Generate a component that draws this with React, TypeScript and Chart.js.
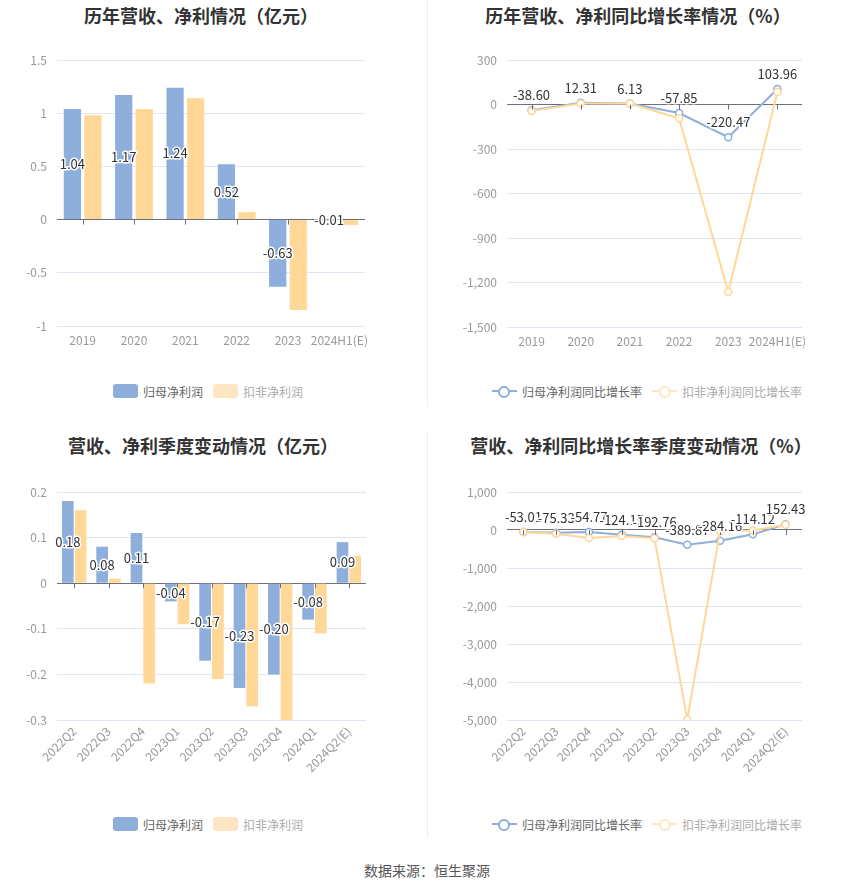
import React, { useEffect, useRef } from 'react';
import { Chart, registerables } from 'chart.js';

Chart.register(...registerables);

// ---------- data ----------
const annualCategories = ['2019', '2020', '2021', '2022', '2023', '2024H1(E)'];
const annualParentProfit = [1.04, 1.17, 1.24, 0.52, -0.63, -0.01];
const annualDeductedProfit = [0.98, 1.04, 1.14, 0.07, -0.85, -0.05];
const annualParentYoY = [-38.6, 12.31, 6.13, -57.85, -220.47, 103.96];
const annualDeductedYoY = [-43, 7, 7, -93, -1263, 84];

const quarterCategories = ['2022Q2', '2022Q3', '2022Q4', '2023Q1', '2023Q2', '2023Q3', '2023Q4', '2024Q1', '2024Q2(E)'];
const quarterParentProfit = [0.18, 0.08, 0.11, -0.04, -0.17, -0.23, -0.2, -0.08, 0.09];
const quarterDeductedProfit = [0.16, 0.01, -0.22, -0.09, -0.21, -0.27, -0.3, -0.11, 0.06];
const quarterParentYoY = [-53.01, -75.33, -54.77, -124.15, -192.76, -389.87, -284.16, -114.12, 152.43];
const quarterDeductedYoY = [-50, -97, -212, -160, -220, -4990, -30, -10, 140];

const annualProfitAxis = { min: -1, max: 1.5, step: 0.5 };
const annualYoYAxis = { min: -1500, max: 300, step: 300 };
const quarterProfitAxis = { min: -0.3, max: 0.2, step: 0.1 };
const quarterYoYAxis = { min: -5000, max: 1000, step: 1000 };

const seriesNames = ['归母净利润', '扣非净利润'];
const yoyNames = ['归母净利润同比增长率', '扣非净利润同比增长率'];

// ---------- styles ----------
const FONT = "'Microsoft YaHei', 'Noto Sans CJK SC', 'Noto Sans', sans-serif";
const BLUE = '#8eaedb';
const YELLOW = '#ffd797';
const YELLOW_LIGHT = '#ffe6c2';

const zeroTicks = {
  id: 'zeroTicks',
  afterDatasetsDraw(chart: any) {
    const { ctx, scales } = chart;
    const xs = scales.x;
    const ys = scales.y;
    const y0 = ys.getPixelForValue(0);
    ctx.save();
    ctx.strokeStyle = '#6e7079';
    ctx.lineWidth = 1;
    const n = chart.data.labels.length;
    for (let i = 0; i < n; i++) {
      const px = Math.round(xs.getPixelForTick(i)) + 0.5;
      ctx.beginPath();
      ctx.moveTo(px, y0);
      ctx.lineTo(px, y0 + 5);
      ctx.stroke();
    }
    ctx.restore();
  },
};

const valueLabels = {
  id: 'valueLabels',
  afterDatasetsDraw(chart: any, _args: any, opts: any) {
    const { ctx } = chart;
    const meta = chart.getDatasetMeta(0);
    const data = chart.data.datasets[0].data as number[];
    ctx.save();
    ctx.font = `13px ${FONT}`;
    ctx.textAlign = 'center';
    ctx.textBaseline = 'middle';
    ctx.lineJoin = 'round';
    ctx.lineWidth = 3;
    ctx.strokeStyle = '#ffffff';
    ctx.fillStyle = '#333333';
    meta.data.forEach((el: any, i: number) => {
      const x = el.x;
      const y = opts.mode === 'bar' ? (el.y + el.base) / 2 : el.y - 15;
      const t = data[i].toFixed(2);
      ctx.strokeText(t, x, y);
      ctx.fillText(t, x, y);
    });
    ctx.restore();
  },
};

type Geo = { yWidth: number; xHeight: number; padTop: number; padRight: number; rotate: boolean };

function buildOptions(axis: { min: number; max: number; step: number }, geo: Geo, fmt: (v: number) => string, mode: string) {
  return {
    responsive: false,
    maintainAspectRatio: false,
    animation: false,
    devicePixelRatio: 1,
    layout: { padding: { top: geo.padTop, right: geo.padRight, left: 0, bottom: 0 } },
    plugins: {
      legend: { display: false },
      tooltip: { enabled: false },
      valueLabels: { mode },
    },
    scales: {
      x: {
        offset: true,
        grid: { display: false, drawTicks: false },
        border: { display: false },
        ticks: {
          color: '#999',
          font: { size: 12, family: FONT },
          padding: geo.rotate ? 4 : 7,
          autoSkip: false,
          maxRotation: geo.rotate ? 45 : 0,
          minRotation: geo.rotate ? 45 : 0,
        },
        afterFit: (s: any) => {
          s.height = geo.xHeight;
          s.paddingLeft = 0;
          s.paddingRight = 0;
        },
      },
      y: {
        min: axis.min,
        max: axis.max,
        border: { display: false },
        grid: {
          drawTicks: false,
          lineWidth: 1,
          color: (ctx: any) => (ctx.tick && Math.abs(ctx.tick.value) < 1e-9 ? '#6e7079' : '#e0e6f1'),
        },
        ticks: {
          stepSize: axis.step,
          color: '#999',
          font: { size: 12, family: FONT },
          padding: 10,
          callback: (v: any) => fmt(Number(v)),
        },
        afterFit: (s: any) => {
          s.width = geo.yWidth;
          s.paddingTop = 0;
          s.paddingBottom = 0;
        },
      },
    },
  };
}

const fmtDecimal = (v: number) => String(Number(v.toFixed(1)));
const fmtThousands = (v: number) => Math.round(v).toLocaleString('en-US');

function barConfig(labels: string[], a: number[], b: number[], axis: any, geo: Geo, cp: number, bp: number) {
  return {
    type: 'bar',
    data: {
      labels,
      datasets: [
        { label: seriesNames[0], data: a, backgroundColor: BLUE, categoryPercentage: cp, barPercentage: bp },
        { label: seriesNames[1], data: b, backgroundColor: YELLOW, categoryPercentage: cp, barPercentage: bp },
      ],
    },
    options: buildOptions(axis, geo, fmtDecimal, 'bar'),
    plugins: [zeroTicks, valueLabels],
  };
}

function lineConfig(labels: string[], a: number[], b: number[], axis: any, geo: Geo) {
  const common = {
    borderWidth: 2,
    pointRadius: 3.5,
    pointBorderWidth: 1.5,
    pointBackgroundColor: '#ffffff',
    tension: 0,
    fill: false,
  };
  return {
    type: 'line',
    data: {
      labels,
      datasets: [
        { ...common, label: yoyNames[0], data: a, borderColor: BLUE, pointBorderColor: BLUE, order: 1 },
        { ...common, label: yoyNames[1], data: b, borderColor: YELLOW, pointBorderColor: YELLOW, order: 0 },
      ],
    },
    options: buildOptions(axis, geo, fmtThousands, 'line'),
    plugins: [zeroTicks, valueLabels],
  };
}

function ChartBox({ left, top, width, height, config }: any) {
  const ref = useRef<HTMLCanvasElement>(null);
  useEffect(() => {
    const chart = new Chart(ref.current as HTMLCanvasElement, config);
    return () => chart.destroy();
  }, []);
  return (
    <div style={{ position: 'absolute', left, top, width, height }}>
      <canvas ref={ref} width={width} height={height} style={{ width, height, display: 'block' }} />
    </div>
  );
}

function Title({ cx, cy, text }: any) {
  return (
    <div
      style={{
        position: 'absolute',
        left: cx - 200,
        width: 400,
        top: cy - 12,
        height: 24,
        lineHeight: '24px',
        textAlign: 'center',
        fontSize: 18,
        fontWeight: 'bold',
        color: '#333',
        fontFamily: FONT,
        whiteSpace: 'nowrap',
      }}
    >
      {text}
    </div>
  );
}

function BarLegend({ cx, cy }: any) {
  const item = (color: string, text: string, textColor: string, ml: number) => (
    <div style={{ display: 'flex', alignItems: 'center', marginLeft: ml }}>
      <div style={{ width: 25, height: 14, borderRadius: 3, background: color }} />
      <span style={{ marginLeft: 5, fontSize: 12, color: textColor, fontFamily: FONT }}>{text}</span>
    </div>
  );
  return (
    <div style={{ position: 'absolute', left: cx - 200, width: 400, top: cy - 10, height: 20, display: 'flex', justifyContent: 'center', alignItems: 'center' }}>
      {item(BLUE, seriesNames[0], '#666', 0)}
      {item(YELLOW_LIGHT, seriesNames[1], '#aaa', 10)}
    </div>
  );
}

function LineLegend({ cx, cy }: any) {
  const item = (color: string, text: string, textColor: string, ml: number) => (
    <div style={{ display: 'flex', alignItems: 'center', marginLeft: ml }}>
      <div style={{ position: 'relative', width: 25, height: 14 }}>
        <div style={{ position: 'absolute', left: 0, top: 6, width: 25, height: 2, background: color }} />
        <div
          style={{
            position: 'absolute',
            left: 6.5,
            top: 1.5,
            width: 8,
            height: 8,
            borderRadius: '50%',
            border: `2px solid ${color}`,
            background: '#fff',
          }}
        />
      </div>
      <span style={{ marginLeft: 5, fontSize: 12, color: textColor, fontFamily: FONT }}>{text}</span>
    </div>
  );
  return (
    <div style={{ position: 'absolute', left: cx - 200, width: 400, top: cy - 10, height: 20, display: 'flex', justifyContent: 'center', alignItems: 'center' }}>
      {item(BLUE, yoyNames[0], '#666', 0)}
      {item(YELLOW_LIGHT, yoyNames[1], '#aaa', 10)}
    </div>
  );
}

export default function App() {
  const tlGeo: Geo = { yWidth: 57, xHeight: 34, padTop: 20, padRight: 15, rotate: false };
  const trGeo: Geo = { yWidth: 82, xHeight: 33, padTop: 20, padRight: 13, rotate: false };
  const blGeo: Geo = { yWidth: 57, xHeight: 70, padTop: 22, padRight: 14, rotate: true };
  const brGeo: Geo = { yWidth: 82, xHeight: 70, padTop: 22, padRight: 13, rotate: true };

  return (
    <div style={{ position: 'absolute', left: 0, top: 0, width: 850, height: 891, background: '#fff', fontFamily: FONT, overflow: 'hidden' }}>
      <Title cx={201} cy={15} text="历年营收、净利情况（亿元）" />
      <Title cx={638} cy={15} text="历年营收、净利同比增长率情况（%）" />
      <Title cx={203} cy={445} text="营收、净利季度变动情况（亿元）" />
      <Title cx={641} cy={445} text="营收、净利同比增长率季度变动情况（%）" />

      <div style={{ position: 'absolute', left: 427, top: 0, width: 1, height: 407, background: '#eeeeee' }} />
      <div style={{ position: 'absolute', left: 427, top: 431, width: 1, height: 407, background: '#eeeeee' }} />

      <ChartBox left={0} top={40} width={380} height={320}
        config={barConfig(annualCategories, annualParentProfit, annualDeductedProfit, annualProfitAxis, tlGeo, 0.8, 0.84)} />
      <ChartBox left={425} top={40} width={390} height={320}
        config={lineConfig(annualCategories, annualParentYoY, annualDeductedYoY, annualYoYAxis, trGeo)} />
      <ChartBox left={0} top={470} width={380} height={320}
        config={barConfig(quarterCategories, quarterParentProfit, quarterDeductedProfit, quarterProfitAxis, blGeo, 0.74, 0.92)} />
      <ChartBox left={425} top={470} width={390} height={320}
        config={lineConfig(quarterCategories, quarterParentYoY, quarterDeductedYoY, quarterYoYAxis, brGeo)} />

      <BarLegend cx={208} cy={391} />
      <LineLegend cx={647} cy={391} />
      <BarLegend cx={208} cy={824} />
      <LineLegend cx={647} cy={824} />

      <div style={{ position: 'absolute', left: 227, width: 400, top: 860, height: 20, lineHeight: '20px', textAlign: 'center', fontSize: 14, color: '#555', fontFamily: FONT }}>
        数据来源：恒生聚源
      </div>
    </div>
  );
}
